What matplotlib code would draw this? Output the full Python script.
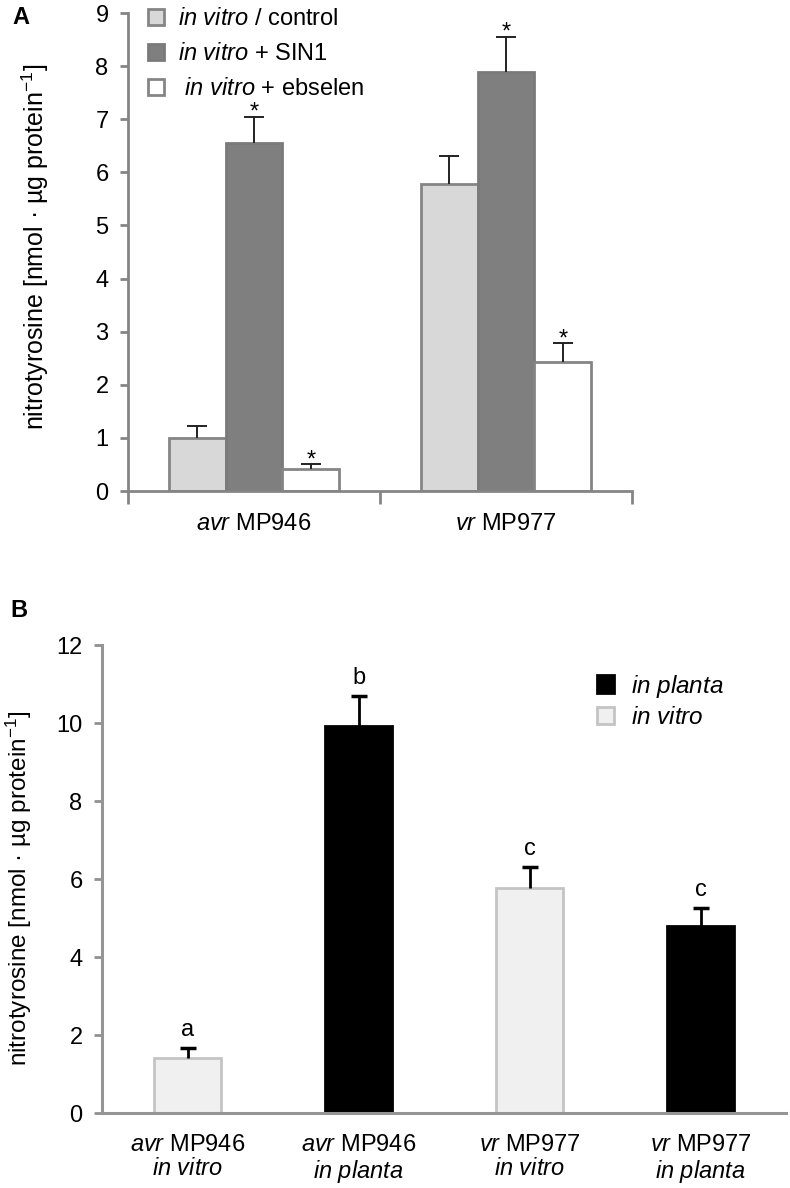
import matplotlib
matplotlib.use("Agg")
import matplotlib.pyplot as plt
import numpy as np
from matplotlib.patches import Patch

plt.rcParams['font.family'] = ['Liberation Sans', 'DejaVu Sans']
plt.rcParams['mathtext.fontset'] = 'custom'
plt.rcParams['mathtext.rm'] = 'Liberation Sans'
plt.rcParams['mathtext.it'] = 'Liberation Sans:italic'
plt.rcParams['mathtext.bf'] = 'Liberation Sans:bold'

# ---------------- data ----------------
groups_A = [r"$\it{avr}$ MP946", r"$\it{vr}$ MP977"]
series_A = ["in vitro / control", "in vitro + SIN1", "in vitro + ebselen"]
legend_A = [r"$\it{in\ vitro}$ / control", r"$\it{in\ vitro}$ + SIN1", r" $\it{in\ vitro}$ + ebselen"]
control_A = [1.00, 5.78]
control_err_A = [0.23, 0.53]
sin1_A = [6.55, 7.88]
sin1_err_A = [0.49, 0.67]
ebselen_A = [0.42, 2.43]
ebselen_err_A = [0.08, 0.35]
star_A = [[False, False], [True, True], [True, True]]  # per series, per group

labels_B = [r"$\it{avr}$ MP946" + "\n" + r"$\it{in\ vitro}$",
            r"$\it{avr}$ MP946" + "\n" + r"$\it{in\ planta}$",
            r"$\it{vr}$ MP977" + "\n" + r"$\it{in\ vitro}$",
            r"$\it{vr}$ MP977" + "\n" + r"$\it{in\ planta}$"]
values_B = [1.42, 9.93, 5.77, 4.80]
err_B = [0.24, 0.75, 0.54, 0.46]
kind_B = ["in vitro", "in planta", "in vitro", "in planta"]
letters_B = ["a", "b", "c", "c"]

ylabel = r"nitrotyrosine [nmol · µg protein$^{-1}$]"

# ---------------- styles ----------------
spine_col = "#858585"
fill_A = ["#d8d8d8", "#7f7f7f", "#ffffff"]
edge_A = ["#858585", "#7a7a7a", "#858585"]
fill_B = {"in planta": "#000000", "in vitro": "#f0f0f0"}
edge_B = {"in planta": "#000000", "in vitro": "#c4c4c4"}

fig = plt.figure(figsize=(7.9, 11.88), dpi=100)

# ================= Panel A =================
axA = fig.add_axes([128/790, 1-491/1188, (632-128)/790, (491-13)/1188])
x = np.arange(len(groups_A))
w = 0.226
vals = [control_A, sin1_A, ebselen_A]
errs = [control_err_A, sin1_err_A, ebselen_err_A]
for i in range(3):
    xpos = x + (i - 1) * w
    v = np.array(vals[i])
    e = np.array(errs[i])
    axA.bar(xpos, v, width=w, color=fill_A[i], edgecolor=edge_A[i],
            linewidth=2, zorder=2, label=legend_A[i])
    axA.errorbar(xpos, v, yerr=[np.zeros(2), e], fmt='none',
                 ecolor='#222222', elinewidth=1.4, capsize=0, zorder=3)
    axA.plot(xpos, v + e, ls='none', marker='_', ms=14, mew=1.4,
             color='#222222', zorder=3)
    for j in range(2):
        if star_A[i][j]:
            axA.text(xpos[j], v[j] + e[j] - 0.13, "*", ha='center',
                     va='bottom', fontsize=17)

axA.set_xlim(-0.5, 1.5)
axA.set_ylim(0, 9)
axA.set_yticks(range(0, 10))
axA.set_xticks(x)
axA.set_xticklabels(groups_A, fontsize=17)
axA.set_xticks([-0.5, 0.5, 1.5], minor=True)
axA.tick_params(axis='x', which='major', length=0, pad=16)
axA.tick_params(axis='x', which='minor', length=9, width=2, color=spine_col, direction='out')
axA.tick_params(axis='y', length=6, width=2, color=spine_col, labelsize=17, pad=8)
for s in ['top', 'right']:
    axA.spines[s].set_visible(False)
for s in ['left', 'bottom']:
    axA.spines[s].set_color(spine_col)
    axA.spines[s].set_linewidth(2)
axA.set_ylabel(ylabel, fontsize=18)
axA.yaxis.set_label_coords(-0.152, 0.51)

hA = [Patch(facecolor=fill_A[i], edgecolor=edge_A[i], linewidth=2) for i in range(3)]
legA = axA.legend(hA, legend_A, loc='upper left', bbox_to_anchor=(0.02, 1.03),
                  frameon=False, fontsize=17, handlelength=0.7, handleheight=0.7,
                  handletextpad=0.6, labelspacing=0.55, borderaxespad=0)

fig.text(12/790, 1-18/1188, "A", fontsize=17, fontweight='bold', va='center', ha='left')

# ================= Panel B =================
axB = fig.add_axes([102/790, 1-1113/1188, (786-102)/790, (1113-645)/1188])
xb = np.arange(len(values_B))
vB = np.array(values_B)
eB = np.array(err_B)
for k in range(len(values_B)):
    axB.bar(xb[k], vB[k], width=0.39, color=fill_B[kind_B[k]],
            edgecolor=edge_B[kind_B[k]], linewidth=2, zorder=2)
axB.errorbar(xb, vB, yerr=[np.zeros(len(vB)), eB], fmt='none',
             ecolor='#000000', elinewidth=2, capsize=0, zorder=3)
axB.plot(xb, vB + eB, ls='none', marker='_', ms=11, mew=2.5, color='#000000', zorder=3)
for k in range(len(values_B)):
    axB.text(xb[k], vB[k] + eB[k] + 0.18, letters_B[k], ha='center',
             va='bottom', fontsize=17)

axB.set_xlim(-0.5, 3.5)
axB.set_ylim(0, 12)
axB.set_yticks(range(0, 13, 2))
axB.set_xticks(xb)
axB.set_xticklabels(labels_B, fontsize=17, linespacing=1.12)
axB.tick_params(axis='x', length=0, pad=15)
axB.tick_params(axis='y', length=6, width=2, color="#909090", labelsize=17, pad=8)
for s in ['top', 'right']:
    axB.spines[s].set_visible(False)
for s in ['left', 'bottom']:
    axB.spines[s].set_color("#959595")
    axB.spines[s].set_linewidth(2.2)
axB.set_ylabel(ylabel, fontsize=17.5)
axB.yaxis.set_label_coords(-0.1, 0.48)

hB = [Patch(facecolor=fill_B["in planta"], edgecolor=edge_B["in planta"], linewidth=2),
      Patch(facecolor=fill_B["in vitro"], edgecolor=edge_B["in vitro"], linewidth=2)]
axB.legend(hB, [r"$\it{in\ planta}$", r"$\it{in\ vitro}$"], loc='upper left',
           bbox_to_anchor=(0.71, 0.962), frameon=False, fontsize=17.5,
           handlelength=0.7, handleheight=0.7, handletextpad=0.7,
           labelspacing=0.32, borderaxespad=0)

fig.text(10/790, 1-610/1188, "B", fontsize=17, fontweight='bold', va='center', ha='left')

fig.savefig("out.png", dpi=100)
